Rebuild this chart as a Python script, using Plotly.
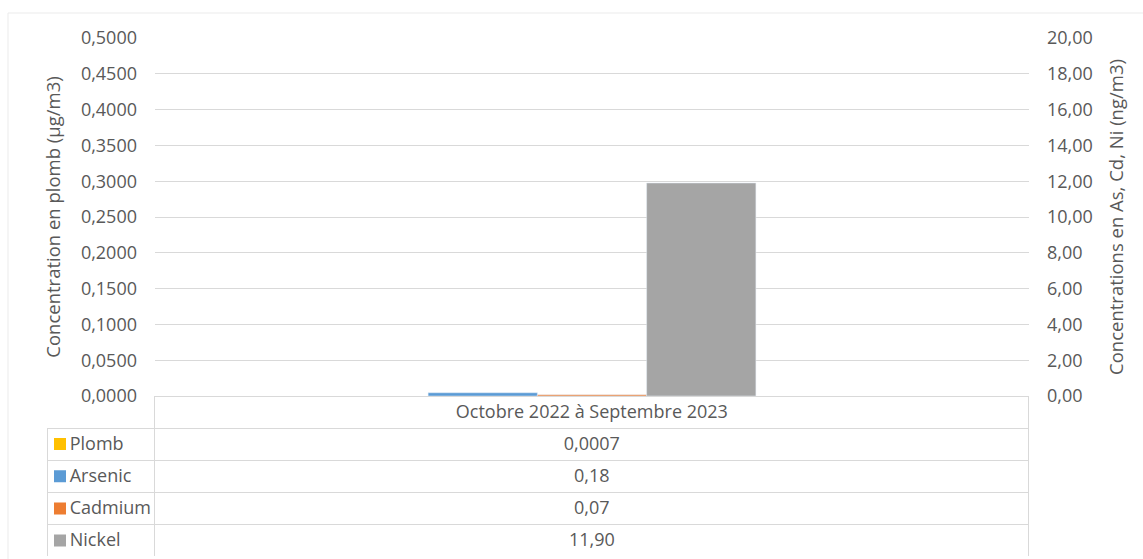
import plotly.graph_objects as go

# ---- data ----
categories = ["Octobre 2022 à Septembre 2023"]
series_names = ["Plomb", "Arsenic", "Cadmium", "Nickel"]
plomb = [0.0007]      # µg/m3, left axis
arsenic = [0.18]      # ng/m3, right axis
cadmium = [0.07]      # ng/m3, right axis
nickel = [11.90]      # ng/m3, right axis
left_ticks = [0, 0.05, 0.10, 0.15, 0.20, 0.25, 0.30, 0.35, 0.40, 0.45, 0.50]
right_ticks = [0, 2, 4, 6, 8, 10, 12, 14, 16, 18, 20]

colors = {"Plomb": "#FFC000", "Arsenic": "#5B9BD5", "Cadmium": "#ED7D31", "Nickel": "#A5A5A5"}
txt = "#595959"
grid = "#D9D9D9"
clear = "rgba(0,0,0,0)"
FONT = "Open Sans"
FS = 18
FT = 18.5
W, H = 1143, 559

# plot area in pixels
px_l, px_r, px_t, px_b = 155, 1029, 38, 396
tbl_l, tbl_b = 47.7, 556.7
row_h = 32

fig = go.Figure()

bw = 0.125
fig.add_trace(go.Bar(x=categories, y=plomb, name="Plomb", yaxis="y",
                     marker_color=colors["Plomb"], width=bw, offset=-bw / 2))
for name, vals, off in [("Arsenic", arsenic, -1.5 * bw), ("Cadmium", cadmium, -0.5 * bw),
                        ("Nickel", nickel, 0.5 * bw)]:
    fig.add_trace(go.Bar(x=categories, y=vals, name=name, yaxis="y2",
                         marker_color=colors[name], width=bw, offset=off))


def fr(v, d):
    return f"{v:.{d}f}".replace(".", ",")


label_col = ["\u00a0\u00a0\u00a0" + n for n in series_names]
value_col = [fr(plomb[0], 4), fr(arsenic[0], 2), fr(cadmium[0], 2), fr(nickel[0], 2)]

fig.add_trace(go.Table(
    domain=dict(x=[tbl_l / W, px_r / W], y=[(H - tbl_b) / H, (H - px_b) / H]),
    columnwidth=[px_l - tbl_l, px_r - px_l],
    header=dict(values=["", categories[0]], align=["left", "center"], height=row_h,
                fill_color=[clear, "white"], line=dict(color=[clear, grid], width=1),
                font=dict(family=FONT, size=FS, color=txt)),
    cells=dict(values=[label_col, value_col], align=["left", "center"],
               height=row_h, fill_color=clear,
               line=dict(color=grid, width=1),
               font=dict(family=FONT, size=FS, color=txt)),
))

# legend keys in the table's first column
fig.add_trace(go.Scatter(x=[0] * len(series_names), y=series_names, xaxis="x3", yaxis="y3",
                         mode="markers", hoverinfo="skip",
                         marker=dict(symbol="square", size=12, line=dict(width=0),
                                     color=[colors[n] for n in series_names])))

fig.update_layout(
    width=W, height=H,
    margin=dict(l=0, r=0, t=0, b=0),
    paper_bgcolor="white", plot_bgcolor="white",
    barmode="overlay", showlegend=False,
    separators=", ",
    font=dict(family=FONT, size=FS, color=txt),
    xaxis=dict(domain=[px_l / W, px_r / W], type="category", range=[-0.5, 0.5],
               showticklabels=False, showgrid=False, zeroline=False, showline=False, ticks=""),
    yaxis=dict(domain=[(H - px_b) / H, (H - px_t) / H], range=[0, 0.5],
               tickvals=left_ticks, tickformat=".4f", showgrid=True, gridcolor=grid, gridwidth=1,
               zeroline=True, zerolinecolor=grid, zerolinewidth=1, showline=False, ticks="",
               ticklabelstandoff=17, automargin=False,
               tickfont=dict(family=FONT, size=FS, color=txt),
               title=dict(text="Concentration en plomb (µg/m3)", standoff=15,
                          font=dict(family=FONT, size=FT, color=txt))),
    yaxis2=dict(overlaying="y", side="right", range=[0, 20], tickvals=right_ticks,
                tickformat=".2f", showgrid=False, zeroline=False, showline=False, ticks="",
                ticklabelstandoff=17, automargin=False,
                tickfont=dict(family=FONT, size=FS, color=txt),
                title=dict(text="Concentrations en As, Cd, Ni (ng/m3)", standoff=18,
                           font=dict(family=FONT, size=FT, color=txt))),
    xaxis3=dict(domain=[54 / W, 66 / W], range=[-1, 1], visible=False, fixedrange=True,
                anchor="y3"),
    yaxis3=dict(domain=[(H - tbl_b) / H, (H - px_b - row_h) / H], type="category",
                categoryorder="array", categoryarray=series_names,
                range=[len(series_names) - 0.5, -0.5], visible=False, fixedrange=True,
                anchor="x3"),
    shapes=[dict(type="rect", xref="paper", yref="paper", x0=8 / W, x1=1.05,
                 y0=-0.05, y1=(H - 13) / H, line=dict(color="#EBEBEB", width=1),
                 fillcolor="rgba(0,0,0,0)", layer="below")],
)

fig.write_html("out.html", config={"displayModeBar": False},
               post_script="document.body.style.margin='0px';")
